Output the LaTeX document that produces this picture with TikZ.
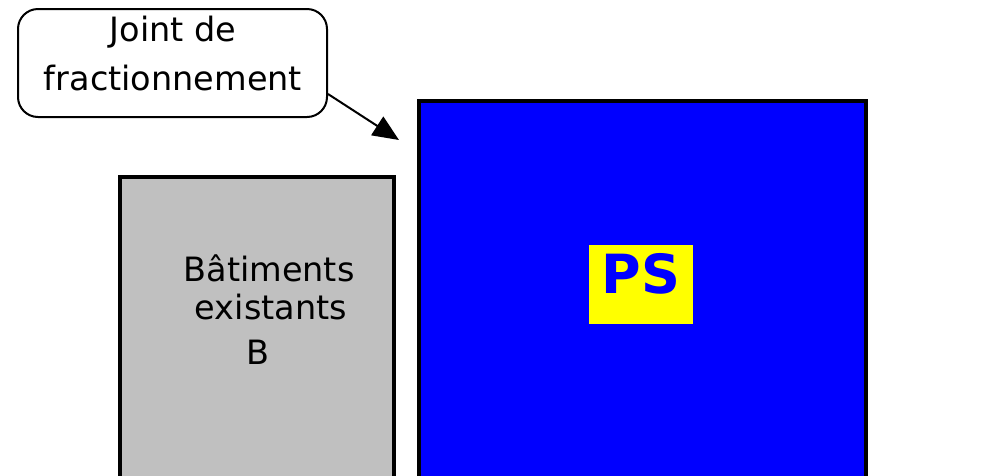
\documentclass[tikz,border=0pt]{standalone}
\usepackage{fontspec}
\setmainfont{DejaVu Sans}
\usetikzlibrary{arrows.meta}
\definecolor{grayfill}{HTML}{C0C0C0}
\definecolor{psblue}{HTML}{0000FF}
\definecolor{psyellow}{HTML}{FFFF00}
\begin{document}
\begin{tikzpicture}[x=1pt,y=-1pt,
  callout/.style={draw=black,line width=2pt,rounded corners=20pt,fill=white},
  txt/.style={font=\fontsize{33.5}{40}\selectfont,align=center,inner sep=0pt},
  building/.style={draw=black,line width=3.5pt},
  pointer/.style={line width=2pt,-{Triangle[length=26pt,width=22pt]}}]
\useasboundingbox (0,0) rectangle (989,475);
\begin{scope}
\clip (0,0) rectangle (989,475);
\draw[building,fill=grayfill] (120,177) rectangle (394,490);
\draw[building,fill=psblue] (419,101) rectangle (866,490);
\end{scope}
\node[fill=psyellow,minimum width=104pt,minimum height=79pt,inner sep=0pt] (psbox) at (641,284.5) {};
\node[font=\fontsize{54}{60}\selectfont\bfseries,text=psblue,inner sep=0pt] (ps) at (641,273.5) {PS};
\node[txt,anchor=center] (bat) at (269,268) {Bâtiments};
\node[txt,anchor=center] (exi) at (271,307) {existants};
\node[txt,anchor=center] (bb) at (258,352) {B};
\draw[callout] (18,9) rectangle (327,117);
\node[txt] (j1) at (173,32) {Joint de};
\node[txt] (j2) at (173,78) {fractionnement};
\coordinate (calloutend) at (328,94);
\coordinate (tip) at (399,140);
\draw[pointer] (calloutend) -- (tip);
\end{tikzpicture}
\end{document}
